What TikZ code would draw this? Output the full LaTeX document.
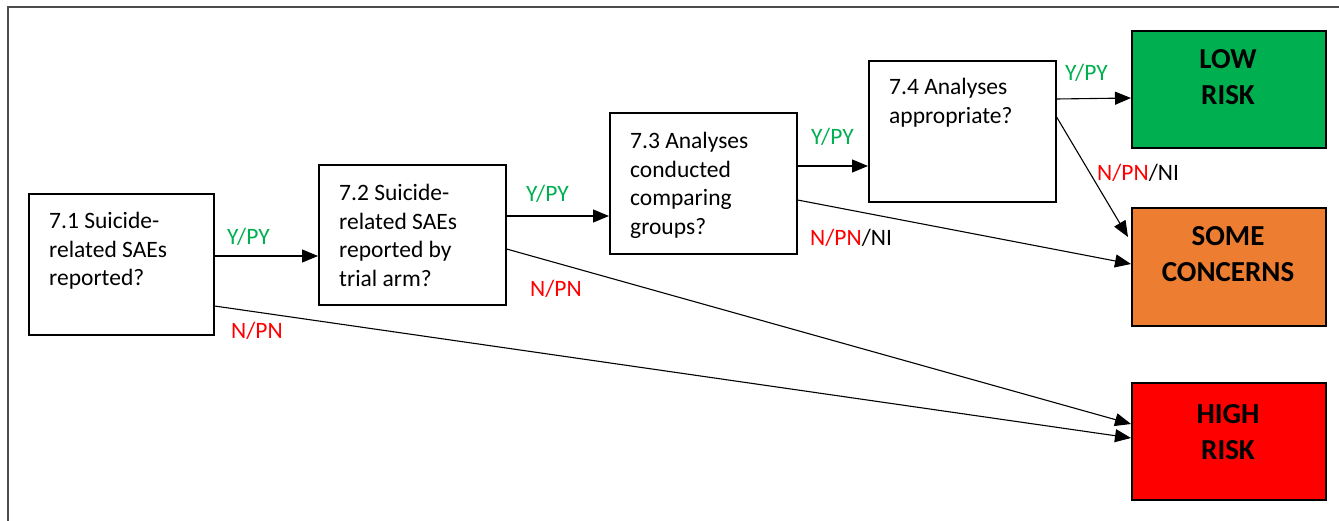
\documentclass[tikz,border=0pt]{standalone}
\usepackage{fontspec}
\setmainfont{Carlito}
\usetikzlibrary{arrows.meta}

\definecolor{okgreen}{HTML}{00B050}
\definecolor{midorange}{HTML}{ED7D31}
\definecolor{hired}{HTML}{FF0000}

\tikzset{
  qbox/.style={draw=black, line width=1.6pt, rectangle, inner sep=0pt, anchor=north west},
  riskbox/.style={qbox, line width=1.6pt},
  qtext/.style={anchor=north west, inner sep=0pt, align=left,
    font=\fontsize{23.5}{28.7}\selectfont},
  risktext/.style={anchor=north, inner sep=0pt, align=center,
    font=\fontsize{29}{36}\selectfont\bfseries},
  lbl/.style={anchor=base west, inner sep=0pt, font=\fontsize{23.5}{28}\selectfont},
  flow/.style={draw=black, line width=1.1pt, -{Triangle[length=16pt,width=13pt]}},
}

\begin{document}
\begin{tikzpicture}[x=1pt, y=-1pt]
  \useasboundingbox (0,0) rectangle (1339,521);

  % outer frame (top and left edges)
  \draw[line width=1.5pt, black!70] (8,521) -- (8,7) -- (1339,7);

  % question boxes
  \node[qbox, minimum width=185pt, minimum height=141pt] (q1) at (28,193) {};
  \node[qbox, minimum width=187pt, minimum height=140pt] (q2) at (318,164) {};
  \node[qbox, minimum width=187pt, minimum height=141pt] (q3) at (609,112) {};
  \node[qbox, minimum width=187pt, minimum height=141pt] (q4) at (868,60) {};

  \node[qtext] (t1) at (49,212) {7.1 Suicide-\\related SAEs\\reported?};
  \node[qtext] (t2) at (339,184) {7.2 Suicide-\\related SAEs\\reported by\\trial arm?};
  \node[qtext] (t3) at (630,132) {7.3 Analyses\\conducted\\comparing\\groups?};
  \node[qtext] (t4) at (889,78) {7.4 Analyses\\appropriate?};

  % judgement boxes
  \node[riskbox, fill=okgreen, minimum width=194pt, minimum height=117pt] (low) at (1131,30) {};
  \node[riskbox, fill=midorange, minimum width=194pt, minimum height=118pt] (some) at (1131,207) {};
  \node[riskbox, fill=hired, minimum width=194pt, minimum height=117pt] (high) at (1131,382) {};

  \node[risktext] (lowt) at (1228,49) {LOW\\RISK};
  \node[risktext] (somet) at (1228,226) {SOME\\CONCERNS};
  \node[risktext] (hight) at (1228,404) {HIGH\\RISK};

  % yes paths
  \draw[flow] (q1.east |- 0,256) -- (q2.west |- 0,256);
  \draw[flow] (q2.east |- 0,216) -- (q3.west |- 0,216);
  \draw[flow] (q3.east |- 0,166) -- (q4.west |- 0,166);
  \draw[flow] (q4.east |- 0,99) -- (low.west |- 0,98);

  % no paths
  \draw[flow] (q1.east |- 0,306) -- (high.west |- 0,438);
  \draw[flow] (q2.east |- 0,249) -- (high.west |- 0,424);
  \draw[flow] (q3.east |- 0,200) -- (some.west |- 0,264);
  \draw[flow] (q4.east |- 0,117) -- ([xshift=-3pt]some.west |- 0,237);

  % answer labels
  \node[lbl, text=okgreen] (y1) at (227,245) {Y/PY};
  \node[lbl, text=hired] (n1) at (231,339) {N/PN};
  \node[lbl, text=okgreen] (y2) at (526,202) {Y/PY};
  \node[lbl, text=hired] (n2) at (530,297) {N/PN};
  \node[lbl, text=okgreen] (y3) at (811,145) {Y/PY};
  \node[lbl] (n3) at (810,246) {\textcolor{hired}{N/PN}/NI};
  \node[lbl, text=okgreen] (y4) at (1065,81) {Y/PY};
  \node[lbl] (n4) at (1097,181) {\textcolor{hired}{N/PN}/NI};
\end{tikzpicture}
\end{document}
